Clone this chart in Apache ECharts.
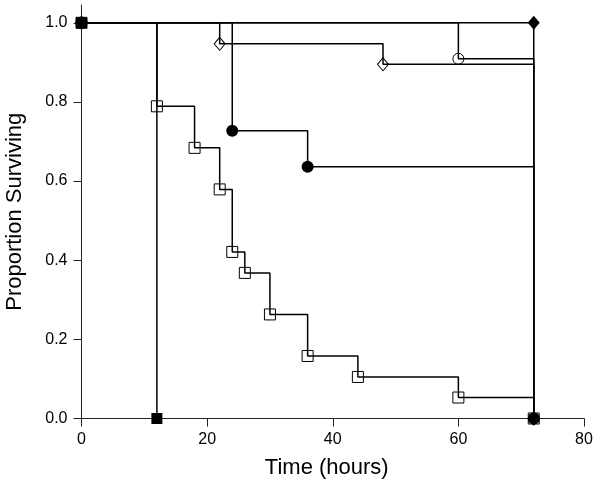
<!DOCTYPE html>
<html>
<head>
<meta charset="utf-8">
<script src="https://cdn.jsdelivr.net/npm/echarts@6/dist/echarts.min.js"></script>
<style>html,body{margin:0;padding:0;background:#fff;}#c{width:600px;height:490px;}</style>
</head>
<body>
<div id="c"></div>
<script>
// Kaplan-Meier survival data (time in hours, proportion surviving)
const openSquareT = [0, 12, 18, 22, 24, 26, 30, 36, 44, 60, 72];
const openSquareS = [1.0, 0.789, 0.684, 0.579, 0.421, 0.368, 0.263, 0.158, 0.105, 0.053, 0.0];
const openDiamondT = [0, 22, 48, 72];
const openDiamondS = [1.0, 0.947, 0.895, 0.0];
const openCircleT = [0, 60, 72];
const openCircleS = [1.0, 0.909, 0.0];
const filledCircleT = [0, 24, 36, 72];
const filledCircleS = [1.0, 0.727, 0.636, 0.0];
const filledSquareT = [0, 12];
const filledSquareS = [1.0, 0.0];
const filledDiamondT = [0, 72, 72];
const filledDiamondS = [1.0, 1.0, 0.0];
const xTicks = [0, 20, 40, 60, 80];
const yTicks = [0, 0.2, 0.4, 0.6, 0.8, 1.0];

function pairs(t, s) { return t.map((v, i) => [v, s[i]]); }
const FONT = 'Liberation Sans, Arial, sans-serif';

function km(t, s, symbol, size, filled) {
  return {
    type: 'line', step: 'end', data: pairs(t, s),
    symbol: symbol, symbolSize: size, showAllSymbol: true,
    lineStyle: { color: '#000', width: 1.5 },
    itemStyle: filled ? { color: '#000', borderColor: '#000', borderWidth: 0 }
                      : { color: 'rgba(0,0,0,0)', borderColor: '#000', borderWidth: 1 },
    emphasis: { disabled: true }, animation: false, z: filled ? 3 : 2
  };
}

const chart = echarts.init(document.getElementById('c'), null, { renderer: 'canvas' });
chart.setOption({
  animation: false,
  grid: { left: 81.5, right: 16, top: 5, bottom: 71.5, containLabel: false, outerBoundsMode: 'none' },
  xAxis: {
    type: 'value', min: 0, max: 80,
    name: 'Time (hours)', nameLocation: 'middle', nameGap: 38,
    nameTextStyle: { fontFamily: FONT, fontSize: 22, color: '#000', padding: [0, 12, 0, 0] },
    axisLine: { show: true, lineStyle: { color: '#222', width: 1 } },
    axisTick: { show: true, inside: false, length: 8, lineStyle: { color: '#222' }, customValues: xTicks },
    axisLabel: { fontFamily: FONT, fontSize: 16, color: '#000', margin: 13, customValues: xTicks },
    splitLine: { show: false }
  },
  yAxis: {
    type: 'value', min: 0, max: 1.045,
    name: 'Proportion Surviving', nameLocation: 'middle', nameGap: 56,
    nameTextStyle: { fontFamily: FONT, fontSize: 22, color: '#000' },
    axisLine: { show: true, lineStyle: { color: '#222', width: 1 } },
    axisTick: { show: true, inside: false, length: 8, lineStyle: { color: '#222' }, customValues: yTicks },
    axisLabel: { fontFamily: FONT, fontSize: 16, color: '#000', margin: 14,
      customValues: yTicks, formatter: v => v.toFixed(1) },
    splitLine: { show: false }
  },
  series: [
    km(openSquareT, openSquareS, 'rect', 11, false),
    km(openDiamondT, openDiamondS, 'diamond', [11, 13], false),
    km(openCircleT, openCircleS, 'circle', 11, false),
    km(filledSquareT, filledSquareS, 'rect', 11, true),
    km(filledCircleT, filledCircleS, 'circle', 12, true),
    km(filledDiamondT, filledDiamondS, 'diamond', [12, 14], true)
  ]
});
</script>
</body>
</html>
